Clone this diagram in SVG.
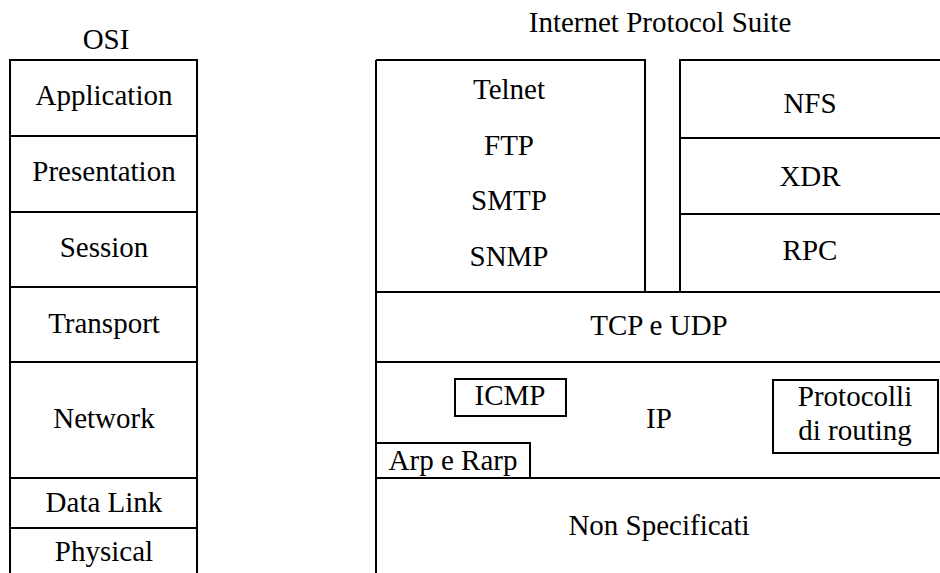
<svg xmlns="http://www.w3.org/2000/svg" width="940" height="573" viewBox="0 0 940 573">
<style>
  text { font-family: "Liberation Serif", "Times New Roman", serif; font-size: 29px; fill: #000; text-anchor: middle; }
  .ln { stroke: #000; stroke-width: 2; fill: none; }
  .bx { stroke: #000; stroke-width: 2; fill: #fff; }
</style>
<rect width="940" height="573" fill="#fff"/>
<g id="titles">
  <text x="106" y="49">OSI</text>
  <text x="660" y="32">Internet Protocol Suite</text>
</g>

<g id="osi">
  <path class="ln" d="M10,573 V60 H197 V573"/>
  <g id="osi-application"><line class="ln" x1="10" y1="136" x2="197" y2="136"/><text x="104" y="105">Application</text></g>
  <g id="osi-presentation"><line class="ln" x1="10" y1="212" x2="197" y2="212"/><text x="104" y="181">Presentation</text></g>
  <g id="osi-session"><line class="ln" x1="10" y1="287" x2="197" y2="287"/><text x="104" y="257">Session</text></g>
  <g id="osi-transport"><line class="ln" x1="10" y1="362" x2="197" y2="362"/><text x="104" y="333">Transport</text></g>
  <g id="osi-network"><line class="ln" x1="10" y1="478" x2="197" y2="478"/><text x="104" y="428">Network</text></g>
  <g id="osi-datalink"><line class="ln" x1="10" y1="528" x2="197" y2="528"/><text x="104" y="512">Data Link</text></g>
  <g id="osi-physical"><text x="104" y="561">Physical</text></g>
</g>

<g id="ips">
  <line class="ln" x1="376" y1="60" x2="376" y2="573"/>
  <g id="apps">
    <path class="ln" d="M376,60 H645 V292"/>
    <text x="509" y="99">Telnet</text>
    <text x="509" y="155">FTP</text>
    <text x="509" y="210">SMTP</text>
    <text x="509" y="266">SNMP</text>
  </g>
  <g id="nfs"><path class="ln" d="M680,292 V60 H941"/><text x="810" y="113">NFS</text></g>
  <g id="xdr"><line class="ln" x1="680" y1="138" x2="941" y2="138"/><text x="810" y="186">XDR</text></g>
  <g id="rpc"><line class="ln" x1="680" y1="214" x2="941" y2="214"/><text x="810" y="260">RPC</text></g>
  <g id="tcpudp"><line class="ln" x1="376" y1="292" x2="941" y2="292"/><text x="659" y="335">TCP e UDP</text></g>
  <g id="ip"><line class="ln" x1="376" y1="362" x2="941" y2="362"/><text x="659" y="428">IP</text></g>
  <g id="icmp"><rect class="bx" x="455" y="379" width="111" height="37"/><text x="510" y="405">ICMP</text></g>
  <g id="routing"><rect class="bx" x="773" y="380" width="165" height="73"/><text x="855" y="406">Protocolli</text><text x="855" y="440">di routing</text></g>
  <g id="arp"><rect class="bx" x="376" y="443" width="154" height="35"/><text x="453" y="470">Arp e Rarp</text></g>
  <g id="nonspec"><line class="ln" x1="376" y1="478" x2="941" y2="478"/><text x="659" y="535">Non Specificati</text></g>
</g>
<g id="connectors"></g>
</svg>
